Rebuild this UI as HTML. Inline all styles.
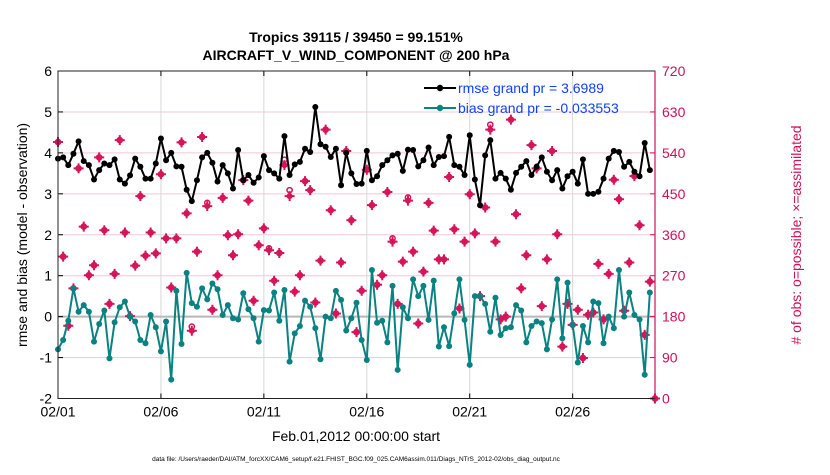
<!DOCTYPE html>
<html><head><meta charset="utf-8"><style>
body{margin:0;background:#fff;}
svg text{font-family:"Liberation Sans",sans-serif;}
</style></head><body>
<svg id="chart" width="830" height="470" viewBox="0 0 830 470" xmlns="http://www.w3.org/2000/svg">
<rect x="0" y="0" width="830" height="470" fill="#fff"/>
<g id="grid"></g>
<g id="marks"></g>
<g id="axes"></g>
<text x="356" y="42" text-anchor="middle" font-size="14" font-weight="bold">Tropics 39115 / 39450 = 99.151%</text>
<text x="356" y="60" text-anchor="middle" font-size="14" font-weight="bold">AIRCRAFT_V_WIND_COMPONENT @ 200 hPa</text>
<text x="356" y="441" text-anchor="middle" font-size="14">Feb.01,2012 00:00:00 start</text>
<text transform="translate(27,235) rotate(-90)" text-anchor="middle" font-size="14">rmse and bias (model - observation)</text>
<text transform="translate(801,235) rotate(-90)" text-anchor="middle" font-size="14" fill="#d0105a"># of obs: o=possible; ×=assimilated</text>
<text x="356" y="461" text-anchor="middle" font-size="6.5">data file: /Users/raeder/DAI/ATM_forcXX/CAM6_setup/f.e21.FHIST_BGC.f09_025.CAM6assim.011/Diags_NTrS_2012-02/obs_diag_output.nc</text>
<g>
<line x1="424" y1="88" x2="456" y2="88" stroke="#000" stroke-width="2"/>
<circle cx="440" cy="88" r="3.2" fill="#000"/>
<text x="458" y="93" font-size="14" fill="#1040ff">rmse grand pr = 3.6989</text>
<line x1="424" y1="108" x2="456" y2="108" stroke="#0a8282" stroke-width="2"/>
<circle cx="440" cy="108" r="3.2" fill="#0a8282"/>
<text x="458" y="113" font-size="14" fill="#1040ff">bias grand pr = -0.033553</text>
</g>
</svg>
<script>
const rmse=[3.86,3.89,3.70,3.98,4.28,3.80,3.70,3.35,3.58,3.74,3.70,3.84,3.35,3.25,3.45,3.86,3.66,3.37,3.37,3.74,4.35,3.82,4.0,3.67,3.66,3.1,2.82,3.33,3.89,4.0,3.76,3.3,
3.70,3.5,3.13,4.07,3.33,3.46,3.27,3.4,3.92,3.58,3.5,3.37,4.41,3.46,3.72,3.78,4.1,4.02,5.12,4.21,4.15,3.9,4.1,3.21,4.0,3.5,3.24,3.25,4.05,
3.33,3.43,3.7,3.82,3.94,3.98,3.56,4.08,4.07,3.67,3.82,4.13,3.7,3.9,3.92,4.39,3.7,3.66,3.46,4.43,3.35,2.72,3.94,4.31,3.37,3.51,3.37,3.1,3.51,
3.66,3.8,3.46,3.66,3.89,3.54,3.33,3.58,3.13,3.43,3.54,3.25,3.84,3.0,3.0,3.05,3.37,3.86,4.05,4.02,3.66,3.78,3.54,3.43,4.24,3.58];
const bias=[-0.8,-0.57,-0.1,0.69,0.12,0.28,0.12,-0.61,-0.18,0.15,-1.02,-0.14,0.23,0.37,0.0,-0.12,-0.57,-0.65,0.04,-0.26,-0.85,-0.12,-1.54,0.63,-0.67,1.07,0.33,0.24,0.69,0.42,0.81,0.67,
0.04,0.28,-0.04,-0.07,0.57,0.18,-0.04,-0.61,0.16,0.15,0.59,-0.1,0.65,-1.1,-0.41,-0.23,0.39,0.24,-0.28,-1.04,0,-0.04,0.63,0.41,-0.34,-0.04,0.34,-0.57,-1.06,
1.14,-0.15,-0.1,-0.63,0.75,-1.3,0.23,-0.04,0.91,0.5,0.75,-0.08,0.88,-0.73,-0.26,-0.72,0.08,0.91,-0.08,-1.18,0.5,0.5,0.31,-0.37,0.46,-0.45,-0.28,-0.26,0.28,
0.15,-0.63,-0.23,-0.12,-0.16,-0.8,-0.07,0.91,-0.53,0.83,-0.2,-1.12,-0.23,-0.63,0.37,0.33,-0.65,0.0,-0.28,1.14,0.0,0.59,0.04,-0.07,-1.42,0.59];
const nAssim=[564,312,160,242,506,378,271,293,530,370,208,274,568,365,181,292,445,314,365,319,493,352,244,352,563,407,149,323,575,423,195,271,
441,359,315,361,480,435,215,337,374,326,259,320,513,445,235,271,478,458,211,303,591,414,187,299,544,392,146,237,503,
425,250,271,454,345,208,301,435,323,165,279,430,369,306,306,487,372,198,345,449,363,225,420,591,345,174,180,613,405,
242,315,557,506,203,306,544,361,114,208,162,195,89,184,189,296,174,274,481,438,193,299,489,381,140,257,0];
const nPoss=[564,312,160,242,506,378,271,293,530,370,208,274,568,365,181,292,445,314,365,319,493,352,244,352,563,407,158,323,575,430,195,271,
441,359,315,361,480,435,215,337,374,330,259,320,525,458,235,271,478,458,211,303,591,414,187,299,544,392,146,237,503,
425,250,271,454,352,208,301,442,323,165,279,430,369,306,306,487,372,198,345,449,363,225,420,602,345,174,180,613,405,
242,315,557,506,203,306,544,361,114,208,162,195,89,184,189,296,174,274,481,438,193,299,489,381,140,257,0];
const dateLabels=["02/01","02/06","02/11","02/16","02/21","02/26"];
const leftTicks=[-2,-1,0,1,2,3,4,5,6];
const rightTicks=[0,90,180,270,360,450,540,630,720];

const NS="http://www.w3.org/2000/svg";
const X0=58,X1=655,Y0=71,Y1=398.5,PER_DAY=(X1-X0)/29;
const xs=i=>X0+i*PER_DAY/4;
const yL=v=>Y1-(v+2)*(Y1-Y0)/8;
const yR=c=>Y1-c*(Y1-Y0)/720;
function mk(tag,attrs,parent){const e=document.createElementNS(NS,tag);for(const k in attrs)e.setAttribute(k,attrs[k]);parent.appendChild(e);return e;}
const grid=document.getElementById('grid'),marks=document.getElementById('marks'),axes=document.getElementById('axes');

leftTicks.forEach(v=>{
  const y=yL(v);
  if(v!==0&&v!==-2&&v!==6){const l=mk('line',{x1:X0,x2:X1,y1:y,y2:y,stroke:'#f0c8d8','stroke-width':1},grid);
  
  }
  const t=mk('text',{x:X0-6,y:y+5,'text-anchor':'end','font-size':14},axes);t.textContent=v;
  
  
  mk('line',{x1:X0,x2:X0+5,y1:y,y2:y,stroke:'#000'},axes);
});
rightTicks.forEach(c=>{
  const y=yR(c);
  const t=mk('text',{x:X1+7,y:y+5,'font-size':14,fill:'#d0105a'},axes);t.textContent=c;
  
  
  mk('line',{x1:X1-5,x2:X1,y1:y,y2:y,stroke:'#d0105a'},axes);
});
dateLabels.forEach((d,k)=>{
  const x=X0+k*5*PER_DAY;
  if(k>0){const l=mk('line',{x1:x,x2:x,y1:Y0,y2:Y1,stroke:'#d8d8d8','stroke-width':1},grid);
  
  }
  const t=mk('text',{x:x,y:Y1+18,'text-anchor':'middle','font-size':14},axes);t.textContent=d;
  
  
  mk('line',{x1:x,x2:x,y1:Y1,y2:Y1-5,stroke:'#000'},axes);
  mk('line',{x1:x,x2:x,y1:Y0,y2:Y0+5,stroke:'#000'},axes);
});
const zl=mk('line',{x1:X0,x2:X1,y1:yL(0),y2:yL(0),stroke:'#b8b8b8','stroke-width':2},grid);



// obs counts
nPoss.forEach((c,i)=>{
  const g=mk('g',{},marks);
  
  
  mk('circle',{cx:xs(i),cy:yR(c),r:2.6,fill:'none',stroke:'#d6145a','stroke-width':1.5},g);
});
nAssim.forEach((c,i)=>{
  const g=mk('g',{},marks);
  
  
  const x=xs(i),y=yR(c);
  mk('circle',{cx:x,cy:y,r:3,fill:'#d6145a'},g);
  mk('path',{d:`M${x-5},${y}H${x+5}M${x},${y-5}V${y+5}`,stroke:'#d6145a','stroke-width':2},g);
});
function series(arr,color,name){
  const p=mk('polyline',{points:arr.map((v,i)=>xs(i)+','+yL(v)).join(' '),fill:'none',stroke:color,'stroke-width':2},marks);
  
  
  arr.forEach((v,i)=>{
    const c=mk('circle',{cx:xs(i),cy:yL(v),r:3,fill:color},marks);
    
    
  });
}
series(rmse,'#000','rmse');
series(bias,'#0a8282','bias');

const fr=mk('rect',{x:X0,y:Y0,width:X1-X0,height:Y1-Y0,fill:'none',stroke:'#222','stroke-width':1},axes);


const ra=mk('line',{x1:X1,x2:X1,y1:Y0,y2:Y1,stroke:'#d0105a','stroke-width':1.2},axes);


</script>
</body></html>
